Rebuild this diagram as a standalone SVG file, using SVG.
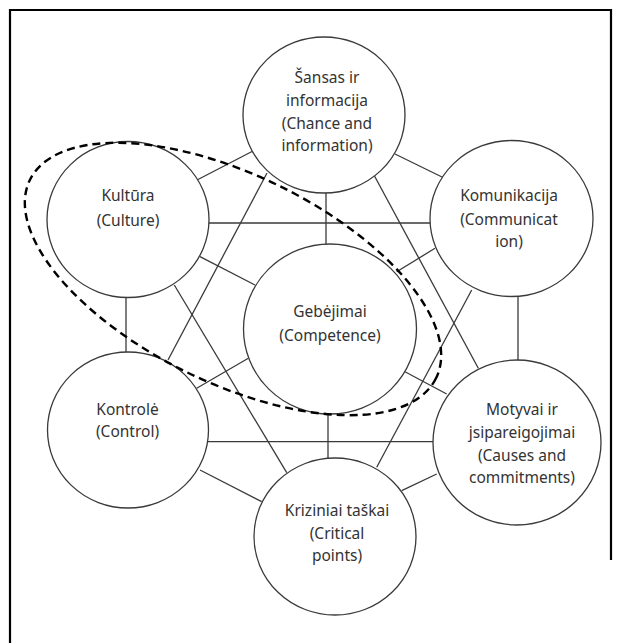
<svg xmlns="http://www.w3.org/2000/svg" width="620" height="643" viewBox="0 0 620 643">
<style>
.node ellipse{fill:#fff;stroke:#3a3a3a;stroke-width:1.3}
.node text{font-family:"Noto Sans","Open Sans","Liberation Sans",sans-serif;font-size:15.5px;fill:#333;text-anchor:middle}
#connectors line{stroke:#3a3a3a;stroke-width:1.3}
.group{fill:none;stroke:#000;stroke-width:2.4;stroke-dasharray:8 5}
.frame{fill:none;stroke:#000;stroke-width:2.2}
</style>
<rect width="620" height="643" fill="#fff"/>
<path class="frame" d="M10,643 V10 H611 V560"/>
<g id="connectors">
<line x1="198" y1="179.5" x2="252" y2="151.5"/>
<line x1="395" y1="154" x2="443" y2="177.5"/>
<line x1="326" y1="192" x2="326" y2="245"/>
<line x1="267" y1="173" x2="168" y2="360"/>
<line x1="374.5" y1="176" x2="478.3" y2="368.3"/>
<line x1="209" y1="223" x2="430" y2="223"/>
<line x1="200" y1="256.7" x2="255" y2="285"/>
<line x1="126" y1="297" x2="126" y2="353"/>
<line x1="174.3" y1="285" x2="286.7" y2="472.7"/>
<line x1="435" y1="248.3" x2="396.7" y2="271.7"/>
<line x1="518" y1="296" x2="518" y2="361"/>
<line x1="471.7" y1="290" x2="376.7" y2="467.3"/>
<line x1="248.3" y1="358.3" x2="196.7" y2="388.3"/>
<line x1="405" y1="371.7" x2="446.7" y2="394"/>
<line x1="328" y1="413" x2="328" y2="459"/>
<line x1="208" y1="441.7" x2="434" y2="441.7"/>
<line x1="200" y1="470" x2="261.7" y2="501.7"/>
<line x1="436.7" y1="474" x2="401.7" y2="490.7"/>
</g>
<g id="n-sansas" class="node">
<ellipse cx="324" cy="115" rx="81" ry="78"/>
<text x="327" y="83">Šansas ir</text>
<text x="327" y="106">informacija</text>
<text x="327" y="128.5">(Chance and</text>
<text x="327" y="151">information)</text>
</g>
<g id="n-kultura" class="node">
<ellipse cx="128" cy="219.5" rx="81" ry="78"/>
<text x="128" y="201">Kultūra</text>
<text x="128" y="226">(Culture)</text>
</g>
<g id="n-komunikacija" class="node">
<ellipse cx="511.5" cy="218.5" rx="81.5" ry="78"/>
<text x="509" y="200.5">Komunikacija</text>
<text x="509" y="225">(Communicat</text>
<text x="509" y="247">ion)</text>
</g>
<g id="n-gebejimai" class="node">
<ellipse cx="330" cy="329" rx="86.5" ry="85"/>
<text x="330" y="317">Gebėjimai</text>
<text x="330" y="341">(Competence)</text>
</g>
<g id="n-kontrole" class="node">
<ellipse cx="128" cy="430" rx="80.5" ry="78"/>
<text x="127.5" y="414.5">Kontrolė</text>
<text x="127.5" y="436.5">(Control)</text>
</g>
<g id="n-motyvai" class="node">
<ellipse cx="517" cy="442.5" rx="84" ry="82.5"/>
<text x="522" y="415">Motyvai ir</text>
<text x="522" y="437.5">jsipareigojimai</text>
<text x="522" y="460.5">(Causes and</text>
<text x="522" y="483">commitments)</text>
</g>
<g id="n-kriziniai" class="node">
<ellipse cx="335" cy="536.5" rx="81" ry="78.5"/>
<text x="337" y="516">Kriziniai taškai</text>
<text x="337" y="539">(Critical</text>
<text x="337" y="561">points)</text>
</g>
<ellipse id="competence-group" class="group" cx="233" cy="279" rx="226" ry="104" transform="rotate(26 233 279)"/>
</svg>
